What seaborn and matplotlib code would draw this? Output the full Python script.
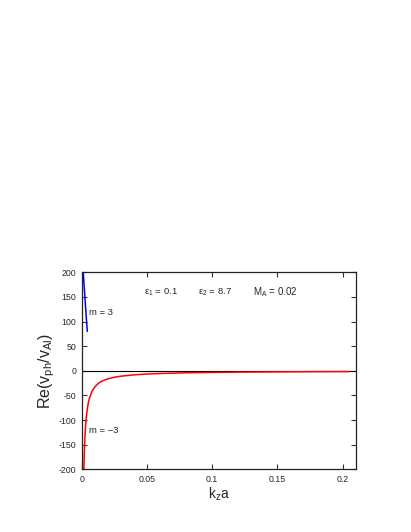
import matplotlib
matplotlib.use("Agg")
import matplotlib.pyplot as plt
import pandas as pd
import seaborn as sns

sns.set_style("ticks")
plt.rcParams["font.family"] = ["Liberation Sans", "DejaVu Sans"]
plt.rcParams["axes.unicode_minus"] = False

# m = 3 branch (only visible near k_z a -> 0)
KZ_POS = [0.0012, 0.0018, 0.0025, 0.0034, 0.0043]
RE_POS = [200, 175, 147, 112, 80]

# m = -3 branch
KZ_NEG = [0.0015, 0.002, 0.0025, 0.003, 0.0035, 0.004, 0.005, 0.006, 0.008,
          0.01, 0.013, 0.016, 0.02, 0.025, 0.03, 0.04, 0.05, 0.06, 0.08,
          0.1, 0.12, 0.14, 0.16, 0.18, 0.205]
RE_NEG = [-215, -165, -132, -110, -95, -83, -66, -55, -41,
          -33, -25, -20.5, -16.5, -13.2, -11, -8.3, -6.6, -5.5, -4.1,
          -3.3, -2.75, -2.4, -2.1, -1.8, -1.6]

X_TICKS = [0, 0.05, 0.1, 0.15, 0.2]
X_TICKLABELS = ["0", "0.05", "0.1", "0.15", "0.2"]
Y_TICKS = [-200, -150, -100, -50, 0, 50, 100, 150, 200]

pos_df = pd.DataFrame({"kza": KZ_POS, "re": RE_POS})
neg_df = pd.DataFrame({"kza": KZ_NEG, "re": RE_NEG})

fig = plt.figure(figsize=(4.11, 5.32), dpi=100)
ax = fig.add_axes([0.1988, 0.1179, 0.6667, 0.3703])

ax.axhline(0, color="black", linewidth=0.8, zorder=1)
sns.lineplot(data=pos_df, x="kza", y="re", color="#0000ff", linewidth=1.1,
             sort=False, estimator=None, ax=ax)
sns.lineplot(data=neg_df, x="kza", y="re", color="#ff0000", linewidth=1.1,
             sort=False, estimator=None, ax=ax)

ax.set_xlim(0, 0.21)
ax.set_ylim(-200, 200)
ax.set_xticks(X_TICKS)
ax.set_xticklabels(X_TICKLABELS)
ax.set_yticks(Y_TICKS)
ax.tick_params(direction="in", length=3.5, width=0.8, labelsize=6.3,
               top=True, right=True, pad=4, color="#333333")
for s in ax.spines.values():
    s.set_linewidth(0.9)
    s.set_color("#222222")

ax.set_xlabel("k$_\\mathregular{z}$a", fontsize=10, labelpad=1)
ax.set_ylabel("Re(v$_\\mathregular{ph}$/v$_\\mathregular{Al}$)", fontsize=11.5, labelpad=1)

ax.text(0.0475, 160, "ε$_\\mathregular{1}$ = 0.1", fontsize=6.8, va="center")
ax.text(0.0895, 160, "ε$_\\mathregular{2}$ = 8.7", fontsize=6.8, va="center")
ax.text(0.131, 160, "M$_\\mathregular{A}$ = 0.02", fontsize=7, va="center")
ax.text(0.0058, 119, "m = 3", fontsize=6.8, va="center")
ax.text(0.0058, -121, "m = \u22123", fontsize=6.8, va="center")

fig.savefig("out.png", dpi=100)
